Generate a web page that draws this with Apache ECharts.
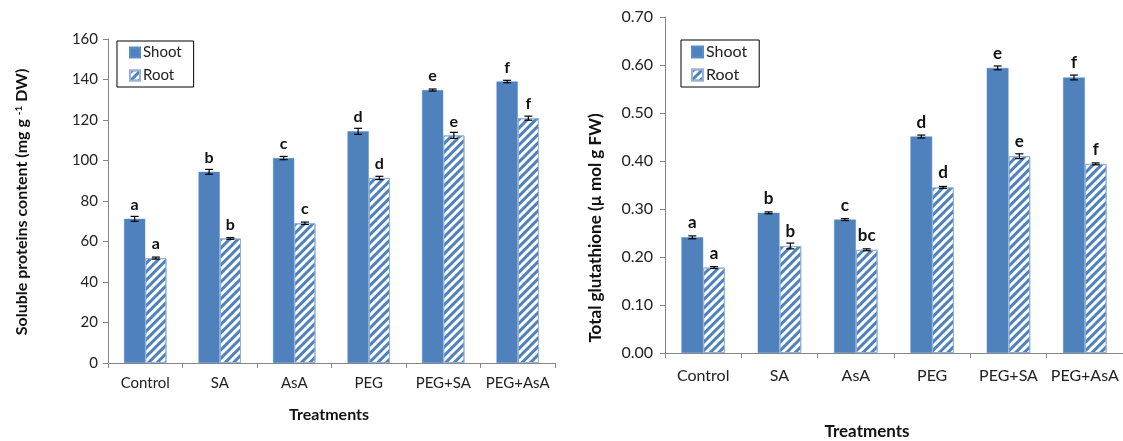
<!DOCTYPE html>
<html>
<head>
<meta charset="utf-8">
<script src="https://cdn.jsdelivr.net/npm/echarts@6/dist/echarts.min.js"></script>
<style>html,body{margin:0;padding:0;background:#fff}#c{width:1123px;height:441px}</style>
</head>
<body>
<div id="c"></div>
<script>
const categories = ['Control', 'SA', 'AsA', 'PEG', 'PEG+SA', 'PEG+AsA'];

// Left chart: Soluble proteins content (mg g-1 DW)
const proteinShoot = [71.2, 94.4, 101.2, 114.4, 134.8, 139.0];
const proteinShootErr = [1.2, 1.2, 0.8, 1.5, 0.5, 0.6];
const proteinRoot = [51.8, 61.5, 69.0, 91.4, 112.4, 120.9];
const proteinRootErr = [0.5, 0.4, 0.6, 0.8, 1.5, 1.0];
const proteinShootLetters = ['a', 'b', 'c', 'd', 'e', 'f'];
const proteinRootLetters = ['a', 'b', 'c', 'd', 'e', 'f'];
const proteinTicks = { min: 0, max: 160, interval: 20 };

// Right chart: Total glutathione (µ mol g FW)
const glutShoot = [0.241, 0.292, 0.278, 0.451, 0.594, 0.574];
const glutShootErr = [0.003, 0.002, 0.002, 0.003, 0.004, 0.005];
const glutRoot = [0.178, 0.223, 0.215, 0.345, 0.410, 0.394];
const glutRootErr = [0.002, 0.006, 0.002, 0.002, 0.005, 0.002];
const glutShootLetters = ['a', 'b', 'c', 'd', 'e', 'f'];
const glutRootLetters = ['a', 'b', 'bc', 'd', 'e', 'f'];
const glutTicks = { min: 0, max: 0.7, interval: 0.1 };

const FONT = 'Lato, "Open Sans", sans-serif';
const BLUE = '#4F81BD';
const AXIS = '#868686';
const CAT_GAP = 0.43;

const rootStyle = {
  color: '#ffffff',
  borderColor: '#95B3D7',
  borderWidth: 1,
  decal: {
    symbol: 'rect', symbolSize: 1,
    dashArrayX: [1, 0], dashArrayY: [3, 3],
    rotation: -Math.PI / 4, color: BLUE
  }
};
const shootStyle = { color: BLUE, borderColor: '#5B8CC8', borderWidth: 0.5 };

function letterLabel(arr, size) {
  return {
    show: true, position: 'top', distance: 6,
    formatter: p => arr[p.dataIndex],
    fontFamily: FONT, fontWeight: 'bold', fontSize: size, color: '#111'
  };
}

function errSeries(idx, vals, errs, side) {
  return {
    type: 'custom', xAxisIndex: idx, yAxisIndex: idx, z: 5, silent: true,
    data: vals.map((v, i) => [i, v, errs[i]]),
    renderItem: function (params, api) {
      const i = api.value(0), v = api.value(1), e = api.value(2);
      const band = api.size([1, 0])[0];
      const bw = band * (1 - CAT_GAP) / 2;
      const cx = api.coord([i, v])[0] + side * bw / 2;
      const yHi = api.coord([i, v + e])[1];
      const yLo = api.coord([i, v - e])[1];
      const cap = 4;
      const st = { stroke: '#000', lineWidth: 1.2 };
      return {
        type: 'group', children: [
          { type: 'line', shape: { x1: cx, y1: yHi, x2: cx, y2: yLo }, style: st },
          { type: 'line', shape: { x1: cx - cap, y1: yHi, x2: cx + cap, y2: yHi }, style: st },
          { type: 'line', shape: { x1: cx - cap, y1: yLo, x2: cx + cap, y2: yLo }, style: st }
        ]
      };
    }
  };
}

function xAxisCfg(idx, fs, margin) {
  return {
    type: 'category', gridIndex: idx, data: categories,
    axisLine: { lineStyle: { color: AXIS } },
    axisTick: { show: true, length: 5, lineStyle: { color: AXIS } },
    axisLabel: { fontFamily: FONT, fontSize: fs, color: '#222', margin: margin, interval: 0 }
  };
}
function yAxisCfg(idx, ticks, fs, margin, fmt) {
  return {
    type: 'value', gridIndex: idx, min: ticks.min, max: ticks.max, interval: ticks.interval,
    splitLine: { show: false },
    axisLine: { show: true, lineStyle: { color: AXIS } },
    axisTick: { show: true, length: 5, lineStyle: { color: AXIS } },
    axisLabel: { fontFamily: FONT, fontSize: fs, color: '#222', margin: margin, formatter: fmt }
  };
}
function legendCfg(left, top, fs, pad, gap, isz) {
  return {
    left: left, top: top, orient: 'vertical',
    data: ['Shoot', 'Root'],
    borderColor: '#000', borderWidth: 1, padding: pad, itemGap: gap,
    itemWidth: isz, itemHeight: isz, icon: 'rect',
    textStyle: { fontFamily: FONT, fontSize: fs, color: '#222', padding: [0, 0, 0, -2] },
    selectedMode: false
  };
}

const chart = echarts.init(document.getElementById('c'), null, { renderer: 'canvas' });
chart.setOption({
  animation: false,
  backgroundColor: '#fff',
  grid: [
    { left: 108, top: 39, width: 447, height: 324 },
    { left: 665, top: 17, width: 458, height: 336 }
  ],
  legend: [
    legendCfg(117, 41, 15, [4, 12, 4, 12], 8, 10),
    legendCfg(681, 40, 16, [4, 12, 4, 10], 7, 11)
  ],
  xAxis: [xAxisCfg(0, 15, 13), xAxisCfg(1, 16, 15)],
  yAxis: [
    yAxisCfg(0, proteinTicks, 15, 10, v => String(v)),
    yAxisCfg(1, glutTicks, 16, 12, v => v.toFixed(2))
  ],
  series: [
    { name: 'Shoot', type: 'bar', xAxisIndex: 0, yAxisIndex: 0, data: proteinShoot,
      barGap: '0%', barCategoryGap: '43%', itemStyle: shootStyle,
      label: letterLabel(proteinShootLetters, 16) },
    { name: 'Root', type: 'bar', xAxisIndex: 0, yAxisIndex: 0, data: proteinRoot,
      barGap: '0%', barCategoryGap: '43%', itemStyle: rootStyle,
      label: letterLabel(proteinRootLetters, 16) },
    { name: 'Shoot', type: 'bar', xAxisIndex: 1, yAxisIndex: 1, data: glutShoot,
      barGap: '0%', barCategoryGap: '43%', itemStyle: shootStyle,
      label: letterLabel(glutShootLetters, 17) },
    { name: 'Root', type: 'bar', xAxisIndex: 1, yAxisIndex: 1, data: glutRoot,
      barGap: '0%', barCategoryGap: '43%', itemStyle: rootStyle,
      label: letterLabel(glutRootLetters, 17) },
    errSeries(0, proteinShoot, proteinShootErr, -1),
    errSeries(0, proteinRoot, proteinRootErr, 1),
    errSeries(1, glutShoot, glutShootErr, -1),
    errSeries(1, glutRoot, glutRootErr, 1)
  ],
  graphic: [
    { type: 'text', x: 22, y: 202, rotation: Math.PI / 2,
      style: {
        text: 'Soluble proteins content (mg g {sup|-1} DW)',
        fontFamily: FONT, fontWeight: 'bold', fontSize: 16, fill: '#111',
        align: 'center', verticalAlign: 'middle',
        rich: { sup: { fontSize: 10, fontWeight: 'bold', fontFamily: FONT, verticalAlign: 'top', padding: [0, 0, 6, 0] } }
      } },
    { type: 'text', x: 596, y: 228, rotation: Math.PI / 2,
      style: {
        text: 'Total glutathione (µ mol g FW)',
        fontFamily: FONT, fontWeight: 'bold', fontSize: 17, fill: '#111',
        align: 'center', verticalAlign: 'middle'
      } },
    { type: 'text', x: 329, y: 415,
      style: { text: 'Treatments', fontFamily: FONT, fontWeight: 'bold', fontSize: 16, fill: '#111',
        align: 'center', verticalAlign: 'middle' } },
    { type: 'text', x: 867, y: 432,
      style: { text: 'Treatments', fontFamily: FONT, fontWeight: 'bold', fontSize: 17, fill: '#111',
        align: 'center', verticalAlign: 'middle' } }
  ]
});
</script>
</body>
</html>
